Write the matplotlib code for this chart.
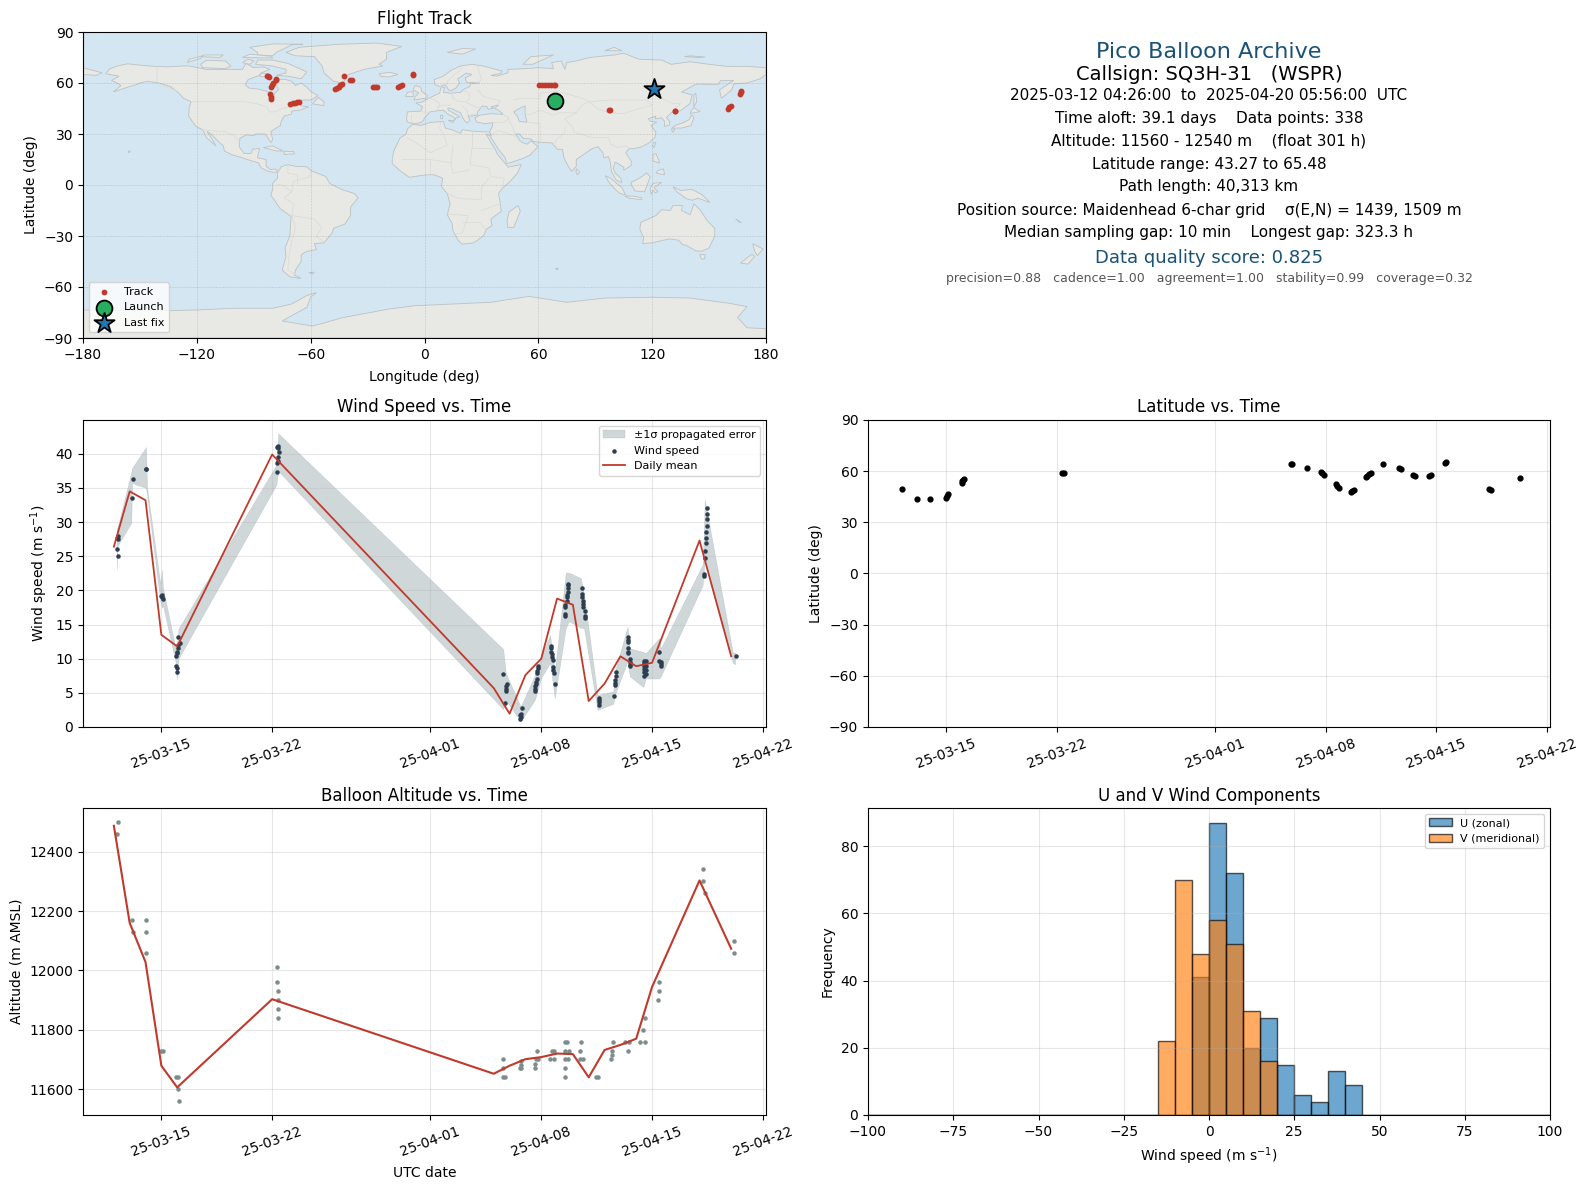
import numpy as np
import matplotlib
matplotlib.use("Agg")
import matplotlib.pyplot as plt
import matplotlib.dates as mdates
from datetime import datetime

W, H = 1589, 1189
T0 = mdates.date2num(datetime(2025, 3, 1))

# all times below are days since 2025-03-01 00:00
mean_days = [11, 12, 13, 14, 15, 21, 35, 36, 37, 38, 39, 40, 41, 42, 43, 44, 45, 48, 50]
mean_wind = [26.4, 34.5, 33.2, 13.5, 11.8, 39.9, 5.7, 1.95, 7.6, 10.0, 18.8, 17.9, 3.8, 6.35, 10.35, 8.9, 9.4, 27.3, 10.35]
mean_alt = [12487, 12160, 12028, 11679, 11606, 11903, 11652, 11679, 11701, 11708, 11720, 11718, 11640, 11732, 11749, 11770, 11944, 12303, 12073]

wind_days = [11.17, 11.23, 11.23, 11.23, 11.2,
             12.12, 12.19, 13.0, 13.03,
             14.0, 14.03, 14.06, 14.1,
             14.97, 14.95, 14.99, 14.95, 14.97, 14.99, 15.05, 15.08, 15.15, 15.08,
             21.29, 21.29, 21.35, 21.35, 21.42, 21.32, 21.38, 21.35,
             35.6, 35.7, 35.76, 35.79, 35.79, 35.82,
             36.67, 36.7, 36.73, 36.64, 36.76,
             37.62, 37.62, 37.62, 37.65, 37.65, 37.72, 37.75, 37.75, 37.78, 37.82,
             38.6, 38.6, 38.63, 38.7, 38.66, 38.76, 38.76, 38.76, 38.82, 38.85,
             39.53, 39.53, 39.53, 39.53, 39.6, 39.6, 39.6, 39.66, 39.66, 39.66, 39.66,
             40.55, 40.55, 40.55, 40.65, 40.65, 40.65, 40.75, 40.75, 40.75,
             41.62, 41.62, 41.62, 41.62,
             42.57, 42.63, 42.63, 42.63, 42.7, 42.7,
             43.5, 43.5, 43.5, 43.5, 43.5, 43.5, 43.6, 43.6, 43.6, 43.6,
             44.5, 44.5, 44.5, 44.5, 44.5, 44.5, 44.6, 44.6, 44.6, 44.6,
             45.45, 45.45, 45.55, 45.55, 45.55,
             48.3, 48.3, 48.35, 48.35, 48.38, 48.38, 48.38, 48.45, 48.45, 48.45, 48.45,
             50.3]
wind_speed = [26.0, 25.0, 27.5, 28.0, 27.7,
              33.5, 36.3, 37.8, 37.8,
              19.2, 19.0, 19.4, 18.8,
              8.0, 9.0, 8.7, 10.4, 10.8, 11.0, 11.5, 12.0, 12.3, 13.2,
              37.3, 38.7, 39.0, 39.5, 40.2, 41.0, 41.2, 40.9,
              7.8, 3.5, 5.3, 5.6, 6.0, 6.3,
              1.2, 1.5, 1.9, 1.8, 2.8,
              5.2, 5.6, 6.0, 6.3, 6.6, 7.1, 7.9, 8.2, 8.6, 8.9,
              11.9, 11.5, 11.0, 10.7, 10.2, 9.8, 8.8, 8.4, 7.9, 6.3,
              16.3, 16.6, 17.5, 17.9, 18.4, 19.0, 19.3, 19.7, 20.3, 20.8, 21.0,
              20.3, 19.5, 19.0, 18.5, 18.0, 17.5, 17.0, 16.2, 15.9,
              3.2, 3.6, 3.9, 4.2,
              4.6, 6.1, 6.5, 6.9, 7.5, 8.0,
              13.2, 12.8, 12.4, 11.5, 11.0, 10.8, 10.0, 9.5, 9.1, 8.9,
              7.5, 8.0, 8.5, 9.0, 9.4, 9.7, 7.7, 8.3, 8.9, 9.6,
              11.0, 9.7, 9.5, 9.2, 9.0,
              22.1, 22.4, 24.7, 25.7, 27.0, 27.7, 28.5, 29.5, 30.5, 31.2, 32.0,
              10.4]

band_days = [11.18, 11.23, 12.1, 12.15, 13.03, 13.1, 13.93, 14.03, 14.1, 14.9, 14.98, 15.08, 21.27, 21.38,
             35.6, 35.76, 36.7, 37.6, 38.0, 38.56, 38.85, 39.55, 39.75, 40.5, 40.7, 41.55, 42.55, 42.7, 43.45, 43.6,
             44.45, 44.6, 45.45, 45.55, 48.2, 48.33, 50.1, 50.25]
band_lo = [23.0, 26.5, 29.9, 35.7, 35.0, 33.8, 18.5, 17.5, 17.8, 9.5, 7.0, 10.0, 35.5, 37.5,
           2.6, 4.0, 0.8, 4.0, 7.2, 9.4, 4.2, 14.5, 15.5, 14.5, 14.5, 2.5, 3.4, 5.0, 9.6, 7.4,
           5.85, 7.1, 7.1, 7.4, 20.8, 24.5, 9.4, 9.2]
band_hi = [29.0, 29.2, 37.3, 37.9, 41.0, 35.0, 21.0, 23.0, 20.4, 11.5, 12.0, 14.4, 38.4, 43.0,
           11.4, 7.9, 3.0, 7.6, 10.3, 13.5, 8.0, 22.6, 22.6, 21.8, 19.5, 4.7, 5.2, 8.5, 14.7, 11.5,
           11.0, 10.8, 13.0, 11.5, 23.8, 33.3, 10.9, 10.9]

alt_days = [11.23, 11.2, 12.12, 12.19, 13.01, 13.01, 13.01, 13.97, 14.1, 14.93, 15.05, 15.08, 15.11,
            21.29, 21.29, 21.35, 21.35, 21.35, 21.35,
            35.6, 35.6, 35.58, 35.74,
            36.64, 36.7, 36.7, 36.7,
            37.6, 37.63, 37.66, 37.8, 37.75,
            38.68, 38.8, 38.58, 38.83,
            39.53, 39.63, 39.47, 39.75, 39.53, 39.66, 39.53, 39.51,
            40.5, 40.47, 40.42, 40.62,
            41.43, 41.59,
            42.39, 42.45, 42.45, 42.52,
            43.45, 43.3, 43.57,
            44.26, 44.58, 44.42, 44.55,
            45.4, 45.45, 45.45,
            48.2, 48.22, 48.33,
            50.2, 50.2]
alt_m = [12500, 12460, 12170, 12130, 12170, 12130, 12060, 11730, 11730, 11640, 11640, 11600, 11560,
         12010, 11960, 11930, 11900, 11870, 11840,
         11700, 11670, 11640, 11640,
         11670, 11680, 11695, 11670,
         11670, 11685, 11700, 11700, 11730,
         11730, 11730, 11700, 11700,
         11760, 11760, 11730, 11730, 11700, 11700, 11670, 11640,
         11760, 11730, 11700, 11700,
         11640, 11640,
         11700, 11715, 11730, 11760,
         11730, 11760, 11760,
         11760, 11760, 11800, 11840,
         11900, 11930, 11960,
         12340, 12300, 12260,
         12100, 12060]

lat_days = [11.2, 12.16, 12.98, 14.0, 14.05, 14.1, 14.98, 15.02, 15.05, 15.1, 21.35, 21.45,
            35.8, 35.9, 36.8, 37.7, 37.8, 37.9, 38.65, 38.75, 38.85, 39.6, 39.7, 39.8,
            40.55, 40.65, 40.75, 40.85, 41.65, 42.65, 42.75, 43.55, 43.65, 44.55, 44.65, 45.55, 45.65,
            48.35, 48.45, 50.3]
lat_deg = [49.4, 43.6, 43.6, 44.5, 45.6, 46.7, 53.0, 54.0, 54.8, 55.4, 58.8, 58.8,
           64.1, 64.0, 61.7, 59.8, 58.8, 57.8, 52.2, 51.2, 50.4, 48.0, 48.4, 48.7,
           56.5, 57.4, 58.2, 59.1, 64.1, 61.7, 61.2, 57.6, 57.0, 57.4, 58.0, 64.8, 65.3,
           49.5, 48.9, 56.0]

track_lon = [-82.8, -82.4, -82.0, -78.4, -78.2, -80.8, -80.2, -79.6, -81.4, -81.0, -80.7,
             -70.7, -69.5, -68.4, -67.4, -66.4,
             -47.3, -46.3, -45.3, -44.3, -43.3, -42.2, -39.2, -38.4,
             -27.0, -26.0, -25.0, -14.0, -13.0, -12.0, -6.2, -5.8,
             60.5, 62.0, 63.5, 65.0, 66.5, 68.0, 68.8,
             97.3, 97.8, 131.8, 132.2, 159.8, 160.6, 161.3, 166.5, 166.7, 166.6]
track_lat = [64.4, 63.9, 63.6, 61.5, 62.4, 57.8, 59.0, 60.2, 53.4, 52.0, 50.6,
             47.9, 48.2, 48.4, 48.7, 49.0,
             56.2, 57.0, 57.8, 58.6, 59.4, 63.9, 61.5, 61.6,
             57.9, 57.4, 57.4, 57.4, 58.0, 58.6, 64.6, 65.5,
             58.6, 58.6, 58.6, 58.6, 58.6, 58.6, 58.6,
             44.0, 44.0, 43.3, 43.5, 45.0, 45.6, 46.2, 53.7, 54.5, 55.4]
launch_lon, launch_lat = [68.8], [49.6]
last_lon, last_lat = [120.9], [56.2]

hist_edges = list(range(-100, 105, 5))
u_bins = {-5: 41, 0: 87, 5: 72, 10: 20, 15: 29, 20: 15, 25: 6, 30: 4, 35: 13, 40: 9}
v_bins = {-15: 22, -10: 70, -5: 48, 0: 58, 5: 51, 10: 31, 15: 16}

date_ticks = ["2025-03-15", "2025-03-22", "2025-04-01", "2025-04-08", "2025-04-15", "2025-04-22"]

land = {
    "north_america": [(-168, 65.5), (-166, 68.3), (-162, 70), (-156.5, 71.3), (-150, 70.5), (-141, 69.7), (-135, 69.5), (-128, 70), (-124, 70), (-115, 68), (-108, 68), (-100, 68), (-96, 68), (-94, 71.5), (-90, 69), (-85, 69.5), (-81.5, 68), (-86, 66), (-87, 64.5), (-93, 62), (-94.5, 59), (-92.5, 57), (-88, 56.5), (-82.5, 55), (-82, 52.5), (-79.5, 51.5), (-79, 54), (-77, 56), (-78, 59), (-77.5, 62.3), (-73, 62), (-70, 61), (-68, 58.5), (-65, 60), (-62, 57.5), (-60, 55), (-56, 52.5), (-60, 50), (-66, 50), (-70, 47), (-65, 49), (-65, 46.5), (-61, 46), (-66, 44), (-70, 43.5), (-70, 41.7), (-74, 40.5), (-75.5, 37.5), (-76, 35), (-81, 31.5), (-80, 26.5), (-81, 25), (-82.7, 28), (-84, 30), (-89, 30), (-90, 29), (-94, 29.5), (-97.3, 27.5), (-97.7, 22.5), (-95, 18.5), (-91.5, 18.5), (-90.5, 21), (-87, 21.5), (-88, 16), (-83.5, 15), (-83.5, 11), (-81, 9), (-79.5, 9.5), (-77.5, 8.7), (-78, 7.5), (-80, 7.5), (-83, 8.3), (-86, 10), (-87.5, 13), (-92, 14.5), (-96, 16), (-102, 18), (-105.5, 20), (-106, 23), (-109, 26), (-112.5, 30), (-114.7, 31.5), (-112, 27), (-110, 23), (-112, 25), (-115, 28), (-117, 32.5), (-120.5, 34.5), (-122.5, 37.5), (-124.3, 40.5), (-124, 46), (-123, 49), (-127, 51), (-130, 54.5), (-134, 58), (-140, 60), (-146, 61), (-150, 60), (-152, 59), (-158, 57), (-164, 54.7), (-160, 58.5), (-162, 60), (-165, 61.5), (-161, 64)],
    "eurasia": [(-9, 37), (-9.5, 39), (-9, 43), (-2, 43.5), (-1, 46), (-4.5, 48.3), (-1.5, 48.7), (1.5, 50.5), (4, 52), (8, 54), (8.5, 57), (10.5, 57.5), (10, 54.5), (14, 54), (19, 54.5), (21, 56.5), (24, 58), (24, 59.5), (29, 60), (25, 60.2), (22, 60.5), (21.5, 63), (25, 65), (22, 65.8), (17.5, 62.5), (18.5, 60), (16.5, 57), (14, 55.5), (12.7, 56), (11, 59), (8, 58), (5.5, 59), (5, 62), (10, 64), (14, 67.5), (19, 70), (25, 71), (31, 70), (41, 67), (40, 65.5), (35, 64.5), (38, 64), (44, 66), (44, 68), (54, 68.5), (60, 69), (68, 68.5), (67, 72), (72, 73), (74, 68), (75, 72), (80, 73), (87, 75), (100, 76.5), (105, 77.5), (113, 74), (125, 73.5), (130, 71), (140, 72.5), (150, 71), (160, 69.7), (170, 69.8), (180, 69), (180, 65), (177, 62.5), (170, 60), (163, 59.5), (162, 56), (156.5, 51), (155.5, 56), (163, 61.5), (156, 61.5), (155, 59.2), (143, 59.3), (135.5, 54.7), (141, 53), (140, 48), (135, 43.7), (130, 42.5), (127.5, 39.7), (129.4, 37), (129, 35.2), (126.5, 34.5), (126.5, 37.5), (125, 39.5), (121.5, 39), (122, 40.5), (118, 39), (119, 37.5), (122.5, 37), (119.3, 35), (122, 31), (121.5, 28), (118, 24.5), (114, 22.3), (110, 21.3), (108, 21.5), (106, 19), (109, 14), (109, 11.5), (105, 8.7), (105, 10.5), (102, 12.5), (100.5, 13.5), (99.5, 10), (100.5, 7), (103.5, 4), (104, 1.4), (101, 3), (98.5, 8), (98, 13), (97, 16.7), (94.5, 16), (94, 19), (91.5, 22.5), (88.5, 21.5), (86.5, 20), (82, 16.5), (80, 15), (80, 11), (77.5, 8), (75.5, 11.5), (73.5, 16), (72.7, 21), (70, 21), (69, 22.5), (67, 24.8), (61.5, 25), (57, 25.7), (56.3, 27), (52, 27.5), (50, 30), (48, 30), (50, 26.5), (51.5, 25), (54, 24), (56.3, 26), (59.8, 22.5), (55.5, 17.5), (52, 15.7), (45, 13), (43.3, 12.7), (42.5, 16), (39, 21), (35, 28), (35, 29.5), (34.3, 31.3), (35.8, 34.5), (36, 36.7), (32, 36), (30, 36.5), (27.5, 37), (26.5, 39.5), (29, 41), (35, 42), (41.5, 41.5), (39, 44), (37, 45), (39, 47), (35, 46), (36.5, 45.2), (33.5, 44.5), (33, 46), (30.5, 46.5), (28, 43), (28, 41.3), (26, 40.7), (23, 40.5), (24, 38), (22.5, 36.5), (21, 38), (19.5, 41), (19, 42.5), (14, 45), (12.3, 45.3), (12.5, 44), (16, 41.8), (18.5, 40), (16.5, 39.5), (16, 38), (15.5, 40), (12.5, 41.5), (10, 44), (7, 43.7), (3, 43), (0, 39.5), (-0.5, 38), (-2, 36.7), (-5.5, 36)],
    "africa": [(-6, 35.8), (-2, 35), (3, 36.8), (10, 37.3), (11, 33.5), (15, 32.3), (19, 30.3), (20, 32.5), (25, 31.7), (32, 31.2), (34.3, 31.3), (34.7, 29), (32.5, 29.9), (33.5, 28), (35.5, 24), (37.3, 21), (38.5, 18), (43, 12), (44, 10.5), (51, 12), (49, 7), (45, 2), (41, -2), (39, -5), (40, -11), (40.5, -15.5), (35, -20), (35.5, -24), (32.7, -26), (31, -30), (26, -34), (20, -34.8), (18, -33), (15, -27), (14.5, -22.5), (12, -17.5), (13.5, -11), (12, -5), (9, -1), (9.5, 4), (5, 6), (1, 6), (-4, 5.2), (-8, 4.5), (-13, 8.5), (-17, 12.5), (-17, 15), (-16.2, 20), (-13, 27.5), (-9.7, 30), (-9, 33)],
    "south_america": [(-77, 8), (-75.5, 10.8), (-72, 12), (-68, 11), (-62, 10.7), (-60, 8.5), (-52, 5), (-50, 1), (-44, -2.5), (-37, -5), (-35, -7.5), (-39, -13), (-39, -18), (-42, -23), (-48, -25.5), (-48.5, -28), (-53, -34), (-58, -34.5), (-57, -38), (-62, -39), (-65, -41), (-65, -45), (-68, -50), (-68.5, -53), (-65, -55), (-71, -54), (-75, -50), (-73, -42), (-73.5, -37), (-71, -30), (-70.3, -18.5), (-76, -14), (-81, -6), (-80, -2.5), (-80, 1), (-77.5, 4), (-77.5, 7)],
    "australia": [(114, -22), (122, -18), (125, -14.5), (129.5, -15), (131, -12), (136, -12), (135.5, -15), (140, -17.5), (142, -11), (145.5, -15), (149, -21), (153, -25.5), (153, -30), (150, -37), (146, -39), (143, -38.7), (138, -35.5), (136, -35), (134, -32.5), (129, -31.7), (124, -33), (120, -34), (115, -34.5), (115.5, -31), (113.5, -26)],
    "antarctica": [(-180, -73.5), (-140, -74), (-120, -73.5), (-100, -72.5), (-80, -72.5), (-70, -70), (-62, -65), (-57, -63.3), (-60, -66), (-62, -72), (-67, -75), (-75, -80), (-59, -83), (-43, -78), (-19, -73), (-5, -71), (15, -70), (35, -69), (55, -65.5), (75, -69), (95, -66.5), (120, -66), (140, -66.5), (160, -69.5), (170, -71.5), (165, -78), (170, -84), (180, -84.5), (180, -90), (-180, -90)],
    "greenland": [(-73, 78), (-66, 81), (-45, 82.8), (-25, 83.5), (-12, 81.5), (-20, 78), (-20, 74), (-24, 71), (-22, 70), (-32, 68), (-40, 65), (-43, 60), (-48, 61), (-53, 66), (-54, 70), (-58, 75.5), (-68, 76)],
    "baffin": [(-80, 73.5), (-72, 71.5), (-67, 69), (-62, 66.5), (-65, 62.5), (-72, 64), (-78, 64.5), (-73, 66), (-73, 68), (-80, 70), (-89, 71), (-88, 73.5)],
    "victoria": [(-117, 69), (-105, 68.5), (-102, 70), (-105, 73), (-115, 73.3), (-118, 71)],
    "banks": [(-125, 72), (-118, 74.5), (-117, 76), (-124, 74)],
    "ellesmere": [(-88, 76.5), (-80, 76), (-78, 78), (-70, 82.5), (-64, 82.8), (-80, 83), (-92, 81), (-88, 78)],
    "devon": [(-96, 75), (-80, 74.7), (-81, 75.7), (-92, 77)],
    "somerset": [(-96, 72), (-93, 74), (-90, 73), (-92, 71)],
    "melville": [(-118, 75.5), (-108, 75), (-106, 76.5), (-116, 76.5)],
    "southampton": [(-87, 64), (-81, 63.5), (-83, 65.5), (-86, 65.8)],
    "newfoundland": [(-59, 47.7), (-53, 46.7), (-53, 49), (-56, 51.5)],
    "cuba": [(-85, 22), (-80, 23), (-74.5, 20), (-78, 20)],
    "hispaniola": [(-74, 19.8), (-69, 19.7), (-68.5, 18.3), (-74, 18)],
    "iceland": [(-24, 65.5), (-18, 66.3), (-14, 65), (-19, 63.5), (-23, 64)],
    "britain": [(-5.5, 50), (1.3, 51.2), (1.5, 52.8), (-1.5, 55), (-2, 57.7), (-5, 58.5), (-6, 56), (-3, 54), (-5, 52)],
    "ireland": [(-10, 52), (-6, 52), (-6, 55), (-9, 54.5)],
    "svalbard": [(12, 78), (20, 80.3), (27, 80), (20, 77)],
    "novaya_zemlya": [(52, 71), (57, 71), (68, 76.5), (56, 75.5)],
    "severnaya": [(95, 79), (104, 79), (100, 81)],
    "new_siberian": [(137, 75.5), (145, 75), (148, 75.3), (140, 76)],
    "chukotka_wrap": [(-180, 69), (-175, 67.5), (-170, 66), (-173, 64.5), (-180, 65)],
    "sakhalin": [(142, 46), (143.5, 49), (143, 54), (142, 53)],
    "honshu": [(130.5, 33.5), (135.5, 33.5), (140.5, 35), (142, 39.5), (141, 41.3), (139.5, 38.5), (136, 36.5), (132, 35)],
    "hokkaido": [(140, 42), (142, 42.5), (145.3, 43.2), (142, 45.5), (140.5, 43.5)],
    "kyushu": [(130, 33), (132, 33), (131, 31)],
    "taiwan": [(120.2, 23), (121, 22), (122, 25), (121, 25.2)],
    "luzon": [(120.5, 14), (124, 13), (122, 18.5), (120.5, 18)],
    "mindanao": [(122, 7), (126.5, 6), (126, 9.5), (123, 8.5)],
    "borneo": [(109, 1.5), (114, 4.5), (117, 7), (119, 5), (117.7, 1), (116, -4), (111, -3.5), (109, 0)],
    "sumatra": [(95.3, 5.5), (98, 4), (104, -1.5), (106, -5.8), (103, -5), (100, -2), (97, 2)],
    "java": [(105.5, -6.5), (110, -6.5), (114.5, -7.5), (114.5, -8.7), (108, -7.8)],
    "sulawesi": [(119.5, -5.5), (120.5, -3), (121.5, -4.5), (123, -4), (121, -1.5), (125, 1.5), (120.5, 1), (119, -2)],
    "new_guinea": [(131, -1), (135, -3.2), (141, -2.6), (146, -5.5), (150.5, -10.3), (144, -7.7), (141, -9), (138, -8), (133, -4)],
    "nz_north": [(173, -34.5), (178.5, -37.7), (175.5, -41.5), (174, -39)],
    "nz_south": [(172.5, -40.7), (174, -42), (170.5, -46.5), (166.5, -46)],
    "tasmania": [(145, -41), (148, -41), (147.5, -43.5), (146, -43.5)],
    "madagascar": [(49.3, -12), (50.5, -15.5), (47, -25), (44, -25), (43.5, -21), (44.5, -16)],
    "sri_lanka": [(80, 9.5), (81.8, 7.5), (80.5, 6), (79.8, 8)],
    "hawaii": [(-156, 19), (-155, 19.7), (-156, 20.2)],
    "falklands": [(-61, -51.5), (-58, -51.3), (-59, -52.3)],
    "kerguelen": [(69, -49), (70.5, -49), (70, -50)],
    "new_caledonia": [(164, -20), (167, -22), (166, -22)],
    "sicily": [(12.5, 38), (15.5, 38), (15, 36.7)],
    "sardinia": [(8.3, 41), (9.7, 41), (9.5, 39), (8.5, 39)],
}
caspian = [(50, 45), (53, 46.5), (53, 42), (54, 37), (50, 37.3), (49, 40.5), (47, 43)]

borders = [
    [(-141, 69.7), (-141, 60), (-130, 55)],
    [(-123, 49), (-95, 49), (-89, 48), (-83, 46), (-82, 43), (-79, 43), (-75, 45), (-70, 46), (-67, 47), (-67, 45)],
    [(-117, 32.5), (-108, 31.5), (-106, 31.7), (-101, 29.5), (-97.3, 26)],
    [(28, 56), (31, 52), (40, 49.5), (38, 47)],
    [(47, 50), (51, 51), (61, 51), (61, 54), (70, 55), (77, 53), (83, 51), (87, 49), (98, 50), (107, 50), (117, 50), (120, 53), (127, 50), (131, 48), (135, 48), (131, 43)],
    [(87, 49), (91, 45), (97, 42.5), (105, 42), (112, 44.5), (120, 47), (117, 50)],
    [(51, 42), (56, 41.5), (61, 44), (68, 41), (71, 42.5), (80, 42.5), (83, 47), (87, 49)],
    [(80, 42.5), (74, 39), (78, 34), (79, 31), (88, 28), (97, 28), (98, 24), (102, 22), (106, 23), (108, 21.5)],
    [(74, 34), (74, 31), (70, 27), (68, 23.8)],
    [(44, 39), (46, 35), (48, 30)],
    [(61.5, 25), (61, 31), (61, 36), (54, 37)],
    [(36, 36.7), (42, 37), (44.5, 39.5), (41.5, 41.5)],
    [(35, 29.5), (39, 32), (47, 29), (48, 28.5)],
    [(25, 31.7), (25, 22), (37, 22)],
    [(-9, 27.7), (-4.8, 25), (3, 19), (12, 23.5), (10, 30), (8, 33), (8.5, 36.8)],
    [(25, 22), (24, 12), (34, 10), (35, 5), (42, 4), (41, -2)],
    [(15, 23), (14, 13), (15, 7), (24, 9)],
    [(12, -5), (18, -8), (30, -8.5), (30, -1), (34, 4)],
    [(12, -17), (23, -18), (20, -28), (16.5, -29)],
    [(20, -22), (29, -22), (32, -26)],
    [(30, -15), (40.5, -10.7)],
    [(-12, 15), (3, 15), (14, 13)],
    [(3, 6.3), (3, 15)],
    [(-70, -18), (-58, -20), (-54, -25), (-57, -30), (-53, -33.5)],
    [(-70, -18), (-69, -11), (-74, -7.5), (-70, -4), (-69, 2), (-60, 5), (-60, 8.5)],
    [(-70, -18), (-68, -25), (-70, -33), (-71.5, -42), (-72, -50), (-68.5, -52.5)],
    [(-78, 0.5), (-75, 0), (-70, -4)],
    [(-72, 12), (-72, 7), (-67, 6), (-67, 1)],
    [(3, 51), (6, 49.5), (8, 48), (7, 44)],
    [(-2, 43.3), (3, 42.5)],
    [(-7, 42), (-7, 37)],
    [(14, 54), (15, 51), (18, 49), (22, 49), (24, 51.5), (23.5, 54), (21, 55.5)],
    [(22, 48.5), (28, 45.5), (29.5, 45.5)],
    [(14, 47), (10, 47), (7, 46)],
    [(23, 41), (28, 42)],
    [(20, 46), (22.5, 44), (23, 41)],
    [(20, 69), (12, 61), (12, 59)],
    [(28, 70), (30, 62), (28, 60)],
]

info_lines = [
    ("Pico Balloon Archive", 52, 16, "#1a5276"),
    ("Callsign: SQ3H-31   (WSPR)", 74, 14, "black"),
    ("2025-03-12 04:26:00  to  2025-04-20 05:56:00  UTC", 95, 11, "black"),
    ("Time aloft: 39.1 days    Data points: 338", 118, 11, "black"),
    ("Altitude: 11560 - 12540 m    (float 301 h)", 141, 11, "black"),
    ("Latitude range: 43.27 to 65.48", 164, 11, "black"),
    ("Path length: 40,313 km", 187, 11, "black"),
    ("Position source: Maidenhead 6-char grid    σ(E,N) = 1439, 1509 m", 210, 11, "black"),
    ("Median sampling gap: 10 min    Longest gap: 323.3 h", 233, 11, "black"),
    ("Data quality score: 0.825", 258, 13, "#1a5276"),
    ("precision=0.88   cadence=1.00   agreement=1.00   stability=0.99   coverage=0.32", 279, 9, "#555555"),
]


def panel(left, right, top, bottom):
    return fig.add_axes([left / W, 1 - bottom / H, (right - left) / W, (bottom - top) / H])


def days(values):
    return T0 + np.array(values)


def time_axis(ax):
    ax.set_xlim(days([9.05])[0], days([52.2])[0])
    ax.set_xticks(mdates.date2num([datetime.fromisoformat(d) for d in date_ticks]))
    ax.xaxis.set_major_formatter(mdates.DateFormatter("%y-%m-%d"))
    ax.tick_params(axis="x", labelrotation=20)
    ax.grid(True, alpha=0.3)


fig = plt.figure(figsize=(W / 100, H / 100), dpi=100)

# map
ax_map = panel(83, 766, 32, 338)
ax_map.set_facecolor("#d4e6f1")
for shape in land.values():
    xy = np.array(shape)
    ax_map.fill(xy[:, 0], xy[:, 1], facecolor="#e8e8e4", edgecolor="#bcc2c4", lw=0.6, zorder=1)
xy = np.array(caspian)
ax_map.fill(xy[:, 0], xy[:, 1], facecolor="#d4e6f1", edgecolor="#bcc2c4", lw=0.6, zorder=1.1)
for line in borders:
    xy = np.array(line)
    ax_map.plot(xy[:, 0], xy[:, 1], color="#d9dbd7", lw=0.5, zorder=1.2)
ax_map.grid(True, ls="--", lw=0.4, color="gray", alpha=0.35)
ax_map.scatter(track_lon, track_lat, s=10, color="#c0392b", zorder=3, label="Track")
ax_map.scatter(launch_lon, launch_lat, s=130, color="#27ae60", edgecolor="black", linewidth=1.3, zorder=4, label="Launch")
ax_map.scatter(last_lon, last_lat, s=230, marker="*", color="#1f77b4", edgecolor="black", linewidth=1.3, zorder=5, label="Last fix")
ax_map.set_xlim(-180, 180)
ax_map.set_ylim(-90, 90)
ax_map.set_xticks(range(-180, 181, 60))
ax_map.set_yticks(range(-90, 91, 30))
ax_map.set_title("Flight Track")
ax_map.set_xlabel("Longitude (deg)", labelpad=6)
ax_map.set_ylabel("Latitude (deg)")
ax_map.legend(loc="lower left", fontsize=8)

# info text
for text, y, size, color in info_lines:
    fig.text(1209 / W, 1 - y / H, text, fontsize=size, color=color, ha="center", va="center")

# wind speed
ax_wind = panel(83, 766, 420, 727)
ax_wind.fill_between(days(band_days), band_lo, band_hi, color="#798d92", alpha=0.35, lw=0.3, label="±1σ propagated error")
ax_wind.scatter(days(wind_days), wind_speed, s=5, color="#2c3e50", zorder=3, label="Wind speed")
ax_wind.plot(days(mean_days), mean_wind, color="#c0392b", lw=1.3, zorder=4, label="Daily mean")
ax_wind.set_ylim(0, 44.95)
ax_wind.set_title("Wind Speed vs. Time")
ax_wind.set_ylabel("Wind speed (m s$^{-1}$)")
time_axis(ax_wind)
ax_wind.legend(loc="upper right", fontsize=8)

# latitude
ax_lat = panel(868, 1550, 420, 727)
ax_lat.scatter(days(lat_days), lat_deg, s=12, color="black", zorder=3)
ax_lat.set_ylim(-90, 90)
ax_lat.set_yticks(range(-90, 91, 30))
ax_lat.set_title("Latitude vs. Time")
ax_lat.set_ylabel("Latitude (deg)")
time_axis(ax_lat)

# altitude
ax_alt = panel(83, 766, 808, 1115)
ax_alt.scatter(days(alt_days), alt_m, s=5, color="#7f8c8d", zorder=3)
ax_alt.plot(days(mean_days), mean_alt, color="#c0392b", lw=1.5, zorder=4)
ax_alt.set_ylim(11513, 12547)
ax_alt.set_yticks(range(11600, 12401, 200))
ax_alt.set_title("Balloon Altitude vs. Time", pad=5)
ax_alt.set_xlabel("UTC date", labelpad=5)
ax_alt.set_ylabel("Altitude (m AMSL)")
time_axis(ax_alt)

# wind components
ax_hist = panel(868, 1550, 808, 1115)
left_edges = hist_edges[:-1]
ax_hist.hist(left_edges, bins=hist_edges, weights=[u_bins.get(e, 0) for e in left_edges],
             alpha=0.65, color="#1f77b4", edgecolor="black", label="U (zonal)")
ax_hist.hist(left_edges, bins=hist_edges, weights=[v_bins.get(e, 0) for e in left_edges],
             alpha=0.65, color="#ff7f0e", edgecolor="black", label="V (meridional)")
ax_hist.set_xlim(-100, 100)
ax_hist.set_title("U and V Wind Components", pad=5)
ax_hist.set_xlabel("Wind speed (m s$^{-1}$)", labelpad=5)
ax_hist.set_ylabel("Frequency")
ax_hist.grid(True, alpha=0.3)
ax_hist.legend(loc="upper right", fontsize=8)

fig.savefig("out.png", dpi=100)
